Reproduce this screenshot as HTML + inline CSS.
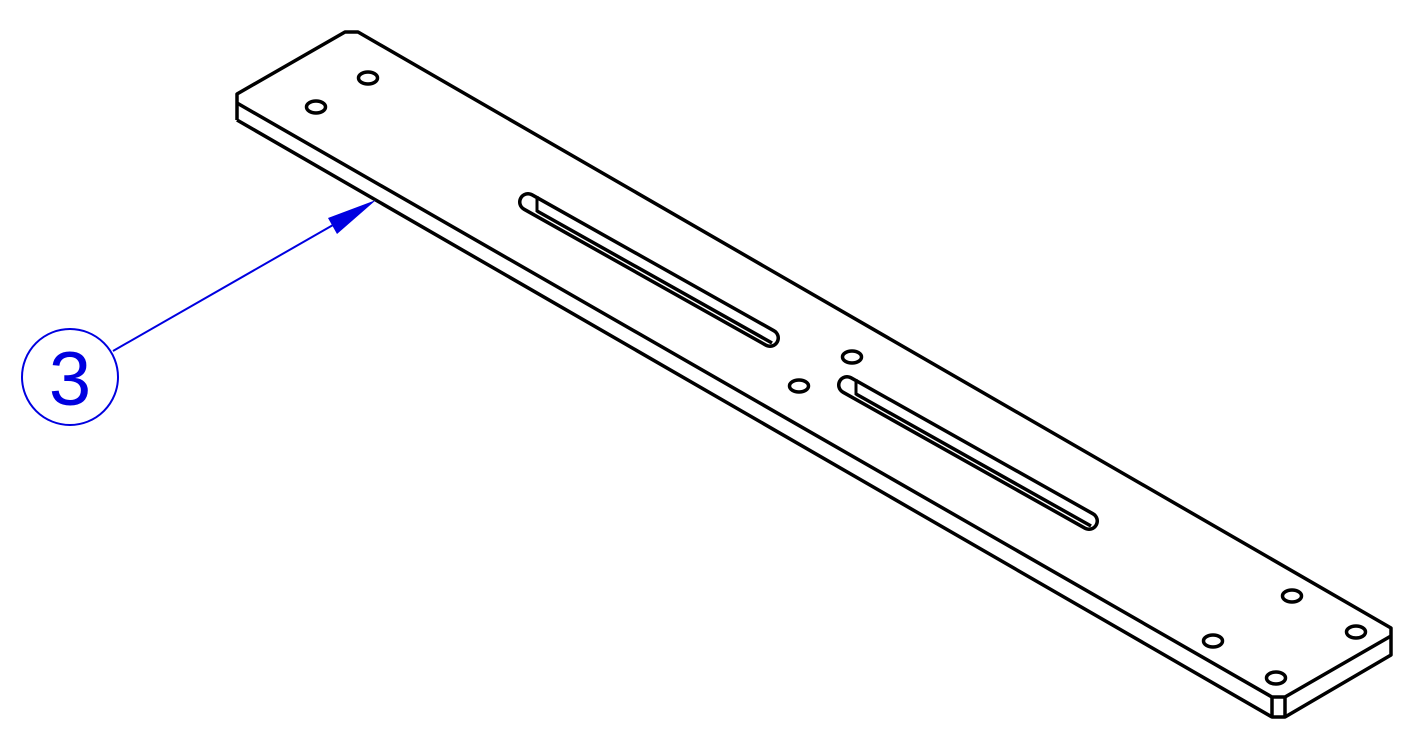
<!DOCTYPE html>
<html><head><meta charset="utf-8"><style>
html,body{margin:0;padding:0;background:#fff;}
svg{display:block;}
</style></head><body>
<svg width="1414" height="742" viewBox="0 0 1414 742">
<g fill="none" stroke="#000" stroke-width="3.5" stroke-linejoin="round">
  <polyline points="237,120 237,94 345,32 358,32 1391,628 1391,655 1285,717 1272,717 237,120"/>
  <polyline points="237,103 1272,697 1285,697 1391,636"/>
  <line x1="1272" y1="697" x2="1272" y2="717"/>
  <line x1="1285" y1="697" x2="1285" y2="717"/>
</g>
<g>
  <line x1="528" y1="202" x2="770" y2="338" stroke="#000" stroke-width="20" stroke-linecap="round"/>
  <line x1="528" y1="202" x2="770" y2="338" stroke="#fff" stroke-width="13" stroke-linecap="round"/>
  <line x1="537" y1="196" x2="537" y2="212" stroke="#000" stroke-width="3"/>
  <line x1="537" y1="211" x2="772" y2="343" stroke="#000" stroke-width="3.5"/>
</g>
<g>
  <line x1="847" y1="385" x2="1089" y2="521" stroke="#000" stroke-width="20" stroke-linecap="round"/>
  <line x1="847" y1="385" x2="1089" y2="521" stroke="#fff" stroke-width="13" stroke-linecap="round"/>
  <line x1="856" y1="379" x2="856" y2="395" stroke="#000" stroke-width="3"/>
  <line x1="856" y1="394" x2="1091" y2="526" stroke="#000" stroke-width="3.5"/>
</g>
<g fill="none" stroke="#000" stroke-width="3.5">
  <ellipse cx="316" cy="107" rx="9.5" ry="6"/>
  <ellipse cx="368" cy="78" rx="9.5" ry="6"/>
  <ellipse cx="852" cy="357" rx="9.5" ry="6"/>
  <ellipse cx="799" cy="386" rx="9.5" ry="6"/>
  <ellipse cx="1292" cy="596" rx="9.5" ry="6"/>
  <ellipse cx="1213" cy="641" rx="9.5" ry="6"/>
  <ellipse cx="1356" cy="632" rx="9.5" ry="6"/>
  <ellipse cx="1276" cy="678" rx="9.5" ry="6"/>
</g>
<g>
  <circle cx="70" cy="377" r="48" fill="none" stroke="#0000e0" stroke-width="2"/>
  <text x="70" y="405" text-anchor="middle" font-family="Liberation Sans, sans-serif" font-size="76" fill="#0000e0">3</text>
  <line x1="113" y1="351" x2="340" y2="221" stroke="#0000e0" stroke-width="2"/>
  <polygon points="376,200 328,218 337,234" fill="#0000e0"/>
</g>
</svg>
</body></html>
